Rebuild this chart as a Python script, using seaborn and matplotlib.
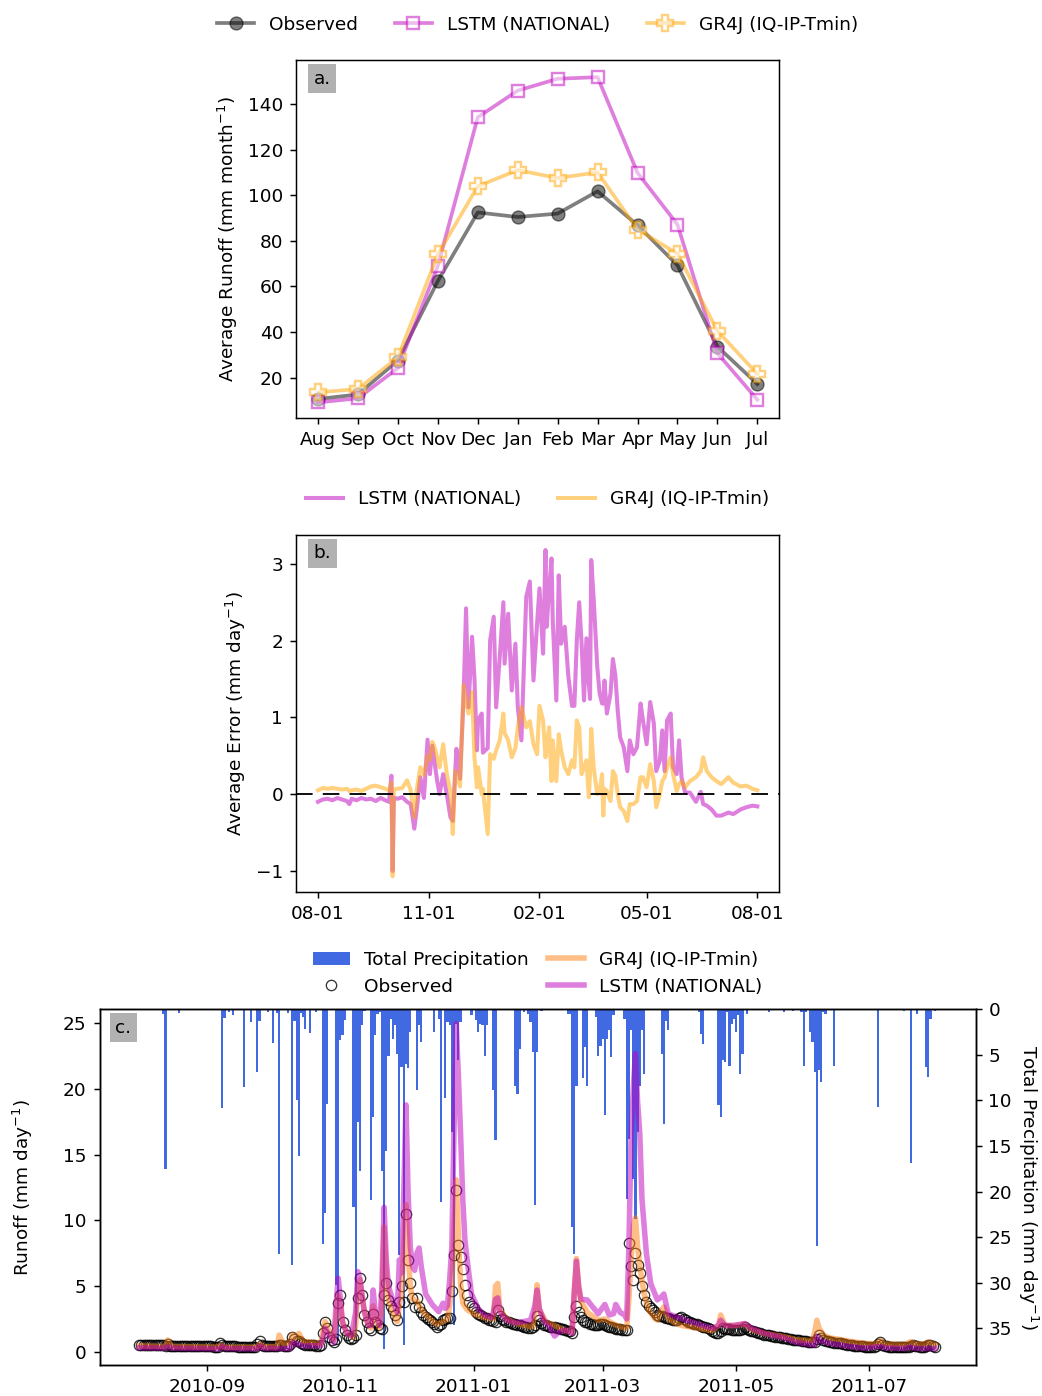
import numpy as np
import pandas as pd
import matplotlib
matplotlib.use("Agg")
import matplotlib.pyplot as plt
import matplotlib.dates as mdates
import seaborn as sns

# ---- panel a: monthly average runoff (mm/month)
months = ["Aug", "Sep", "Oct", "Nov", "Dec", "Jan", "Feb", "Mar", "Apr", "May", "Jun", "Jul"]
obs_month = [10.6, 12.6, 27.5, 62.4, 92.5, 90.5, 92.0, 101.8, 86.9, 69.3, 33.6, 17.2]
lstm_month = [9.1, 10.9, 24.2, 69.0, 134.3, 146.0, 151.2, 151.9, 109.9, 87.2, 30.7, 10.3]
gr4j_month = [13.5, 15.0, 28.9, 74.1, 104.0, 111.1, 107.6, 110.1, 85.0, 74.4, 40.5, 21.6]

# ---- panel b: average daily error, days after 08-01
b_day = [0, 4, 8, 12, 16, 20, 24, 26, 28, 32,
         36, 40, 44, 48, 52, 56, 59, 61, 62, 63,
         66, 70, 74, 77, 80, 82, 85, 88, 91, 93,
         95, 97, 99, 101, 104, 107, 110, 112, 114, 115,
         118, 121, 123, 125, 128, 130, 132, 133, 136, 137,
         141, 143, 146, 148, 151, 154, 155, 158, 161, 164,
         166, 169, 173, 176, 179, 182, 184, 187, 189, 190,
         192, 194, 195, 198, 200, 202, 205, 208, 211, 213,
         215, 217, 219, 221, 223, 225, 226, 227, 229, 232,
         234, 236, 237, 238, 240, 243, 245, 247, 249, 251,
         254, 257, 259, 262, 265, 268, 270, 273, 276, 279,
         281, 284, 286, 288, 290, 293, 295, 298, 300, 302,
         305, 309, 314, 318, 320, 323, 327, 331, 335, 341,
         345, 351, 356, 361, 365]
b_lstm = [-0.10, -0.07, -0.06, -0.08, -0.05, -0.07, -0.09, -0.13, -0.06, -0.08,
          -0.05, -0.07, -0.06, -0.09, -0.05, -0.08, -0.10, 0.24, -1.00, -0.05,
          -0.06, -0.04, -0.10, -0.13, -0.45, -0.20, 0.22, -0.05, 0.71, 0.26,
          0.63, 0.40, 0.17, 0.00, 0.26, 0.00, -0.30, -0.35, 0.30, 0.59,
          0.20, 1.30, 2.42, 1.13, 2.05, 1.50, 0.57, 0.96, 1.05, 0.54,
          0.60, 2.00, 2.31, 1.13, 1.79, 2.50, 1.70, 2.35, 1.35, 1.96,
          1.13, 0.70, 2.57, 2.77, 1.48, 2.22, 2.68, 1.83, 3.18, 2.18,
          2.66, 3.07, 2.27, 1.22, 2.85, 1.96, 2.18, 1.53, 1.15, 1.15,
          2.00, 2.50, 1.96, 1.22, 2.03, 1.44, 1.24, 3.05, 2.55, 1.66,
          1.31, 1.18, 1.18, 1.48, 1.05, 1.31, 1.76, 1.55, 1.09, 0.74,
          0.61, 0.30, 0.70, 0.52, 0.61, 1.18, 0.96, 0.65, 1.20, 0.92,
          0.30, 0.44, 0.83, 0.30, 0.96, 1.05, 0.35, 0.26, 0.70, 0.22,
          0.02, 0.02, -0.10, 0.03, -0.13, -0.15, -0.20, -0.28, -0.28, -0.24,
          -0.26, -0.20, -0.17, -0.15, -0.16]
b_gr4j = [0.05, 0.08, 0.07, 0.08, 0.07, 0.06, 0.07, 0.04, 0.05, 0.06,
          0.04, 0.07, 0.10, 0.11, 0.09, 0.07, 0.05, 0.15, -1.07, 0.06,
          0.07, 0.08, 0.18, 0.05, -0.30, 0.05, 0.35, 0.25, 0.50, 0.45,
          0.68, 0.60, 0.48, 0.35, 0.65, 0.26, 0.04, -0.52, 0.30, 0.25,
          0.10, 1.42, 1.20, 1.05, 1.33, 0.48, 0.09, 0.35, 0.00, 0.07,
          -0.52, 0.52, 0.46, 0.57, 0.70, 1.05, 0.80, 0.70, 0.48, 0.60,
          0.87, 1.13, 0.87, 0.95, 0.65, 0.52, 1.15, 0.96, 0.48, 0.60,
          0.87, 0.17, 0.70, 0.17, 0.78, 0.57, 0.35, 0.26, 0.44, 0.35,
          0.96, 0.87, 0.26, 0.35, 0.44, -0.04, 0.26, 0.85, 0.35, 0.00,
          0.04, 0.26, -0.28, 0.07, 0.04, -0.09, 0.30, 0.24, 0.00, -0.17,
          -0.22, -0.35, -0.13, -0.13, -0.09, 0.22, 0.22, 0.09, 0.39, 0.17,
          -0.17, 0.00, 0.17, 0.22, 0.35, 0.48, 0.26, 0.04, 0.13, 0.17,
          0.09, 0.17, 0.22, 0.30, 0.48, 0.30, 0.22, 0.17, 0.13, 0.22,
          0.15, 0.10, 0.11, 0.07, 0.05]

# ---- panel c: daily series 2010-08-01 .. 2011-07-31 (day offsets)
p_day = [11, 12, 18, 38, 39, 41, 43, 48, 51, 54, 55, 59, 61, 63, 64, 68, 70, 71, 72, 73,
         74, 75, 76, 78, 81, 84, 85, 86, 90, 91, 92, 93, 94, 98, 99, 100, 101, 102, 103, 106,
         107, 108, 109, 110, 111, 112, 113, 114, 115, 116, 117, 118, 119, 120, 121, 122, 123, 124, 127, 128,
         129, 135, 137, 138, 140, 141, 142, 143, 144, 145, 146, 147, 152, 154, 155, 156, 157, 158, 159, 162,
         163, 172, 173, 174, 176, 178, 179, 180, 181, 182, 184, 196, 197, 198, 199, 200, 203, 204, 205, 209,
         210, 211, 212, 213, 214, 215, 216, 217, 222, 223, 224, 225, 226, 227, 228, 229, 230, 231, 239, 240,
         241, 242, 256, 257, 258, 265, 266, 267, 268, 269, 270, 271, 272, 273, 274, 275, 276, 278, 288, 295,
         299, 303, 304, 305, 307, 308, 309, 310, 311, 312, 313, 314, 318, 338, 350, 353, 356, 360, 361, 362,
         364]
p_val = [0.5, 17.5, 0.4, 10.8, 1.0, 0.3, 0.6, 8.5, 1.4, 6.9, 1.3, 0.3, 3.7, 0.4, 26.8, 0.4, 28.0, 1.3, 10.0, 16.1,
         0.4, 0.9, 2.2, 2.6, 0.3, 25.7, 22.4, 10.4, 30.2, 36.4, 3.4, 2.9, 1.2, 21.7, 36.0, 12.4, 17.7, 1.8, 0.2, 20.9,
         11.8, 2.9, 0.5, 0.3, 17.7, 37.2, 15.5, 5.1, 1.1, 3.3, 1.8, 4.9, 27.0, 6.4, 36.8, 6.0, 6.5, 2.5, 8.9, 1.8,
         3.6, 2.5, 1.1, 21.1, 9.8, 1.4, 1.8, 13.5, 34.6, 1.6, 5.6, 1.4, 0.7, 1.2, 2.5, 1.6, 1.8, 5.1, 1.8, 8.9,
         14.4, 8.4, 9.3, 4.4, 0.3, 0.5, 1.4, 4.7, 21.5, 4.7, 0.2, 0.5, 0.5, 23.9, 26.8, 8.4, 7.6, 4.2, 8.4, 0.9,
         5.1, 4.0, 3.3, 11.6, 3.3, 2.3, 5.3, 0.7, 1.1, 20.8, 14.2, 2.3, 18.6, 23.0, 13.5, 8.4, 2.3, 7.1, 4.9, 12.6,
         1.3, 2.3, 0.3, 2.7, 3.8, 10.5, 11.8, 5.6, 5.8, 0.3, 6.2, 1.6, 1.1, 2.5, 0.7, 7.1, 4.9, 0.5, 0.3, 0.3,
         0.2, 0.3, 6.2, 0.3, 2.5, 3.6, 6.9, 26.0, 6.7, 8.0, 0.3, 0.5, 6.2, 10.7, 0.2, 16.9, 0.5, 6.4, 7.5, 1.1,
         0.2]

obs_daily = [
    0.52, 0.52, 0.51, 0.51, 0.50, 0.50, 0.50, 0.49, 0.49, 0.48, 0.48, 0.48, 0.47, 0.62,
    0.46, 0.45, 0.45, 0.44, 0.44, 0.44, 0.43, 0.43, 0.43, 0.42, 0.42, 0.42, 0.41, 0.41,
    0.41, 0.41, 0.40, 0.40, 0.40, 0.40, 0.39, 0.39, 0.39, 0.66, 0.55,
    0.42, 0.41, 0.41, 0.40, 0.40, 0.40, 0.39, 0.39, 0.39, 0.39, 0.38, 0.38, 0.38, 0.38, 0.38,
    0.60, 0.85, 0.55, 0.45, 0.43, 0.42, 0.41, 0.41, 0.40, 0.40,
    0.50, 0.48, 0.45, 0.44, 0.43, 0.60,
    1.15, 0.95, 0.80, 0.85, 0.65, 0.58, 0.55, 0.52, 0.50, 0.50, 0.48, 0.47, 0.47, 0.55,
    1.40, 2.30, 1.80, 1.15, 0.90, 0.77, 0.95, 3.74, 4.30, 2.30, 1.66, 1.27, 1.02, 1.00, 1.02, 1.30,
    4.07, 5.60, 4.30, 2.80, 2.30, 1.78, 1.65, 2.90, 2.30, 2.00, 1.78, 1.70, 4.30, 5.20, 3.94, 3.50, 3.20, 2.80, 2.40, 3.80,
    5.00, 3.80, 10.50, 7.00, 5.20, 4.07, 3.43, 4.07, 3.40, 3.05, 2.80, 2.67, 2.50, 2.40, 2.25, 2.15, 1.90, 2.00, 2.15, 2.40,
    2.50, 2.54, 2.54, 4.60, 7.40, 12.30, 8.10, 7.20, 6.30, 5.10, 4.30, 3.80, 3.50, 3.30, 3.05, 2.90, 2.80, 2.70, 2.60, 2.55,
    2.45, 2.40, 2.35, 2.30, 3.20, 2.70, 2.50, 2.40, 2.30, 2.25, 2.20, 2.15, 2.10, 2.05, 2.00, 1.95, 1.90, 1.85, 1.82, 1.80,
    1.85, 2.00, 2.75, 2.40, 2.20, 2.05, 2.00, 1.95, 1.90, 1.88, 1.85, 1.82, 1.80, 1.75, 1.70, 1.66, 1.60, 1.55, 1.45, 2.67,
    3.50, 3.05, 2.67, 2.40, 2.30, 2.25, 2.15, 2.10, 2.05, 2.00, 2.05, 2.15, 2.10, 2.00, 1.95, 1.90, 1.85, 1.80, 1.75, 1.72,
    1.70, 1.66, 1.66, 1.66, 8.30, 6.50, 5.50, 7.50, 6.60, 6.00, 5.00, 4.30, 3.80, 3.50, 3.30, 3.15, 3.05, 2.80, 2.75, 2.70,
    2.67, 2.60, 2.55, 2.50, 2.45, 2.40, 2.40, 2.55, 2.67, 2.50, 2.40, 2.30, 2.25, 2.20, 2.15, 2.10, 2.00, 1.95, 1.90, 1.85,
    1.78, 1.70, 1.60, 1.53, 1.45, 1.40, 1.60, 1.78, 1.75, 1.72, 1.70, 1.68, 1.66, 1.66, 1.66, 1.66, 1.75, 1.90, 1.75, 1.65,
    1.60, 1.55, 1.50, 1.45, 1.40, 1.35, 1.30, 1.27, 1.24, 1.21, 1.18, 1.15, 1.12, 1.10, 1.07, 1.05, 1.02, 0.98, 0.95, 0.92,
    0.90, 0.88, 0.86, 0.84, 0.82, 0.80, 0.78, 0.77, 0.76, 0.75, 1.00, 1.27, 1.05, 0.90, 0.85, 0.80, 0.76, 0.73, 0.70, 0.68,
    0.66, 0.64, 0.60, 0.56, 0.52, 0.50, 0.48, 0.46, 0.45, 0.43, 0.42, 0.40, 0.38, 0.38, 0.37, 0.37, 0.36, 0.45, 0.60, 0.77,
    0.55, 0.45, 0.40, 0.38, 0.37, 0.36, 0.35, 0.34, 0.34, 0.33, 0.33, 0.33, 0.34, 0.40, 0.50, 0.45, 0.40, 0.38, 0.37, 0.37,
    0.40, 0.50, 0.50, 0.42, 0.38]

gr_day = [0, 12, 13, 15, 36, 37, 39, 54, 55, 57,
          63, 64, 66, 69, 70, 71, 73, 75, 83, 84,
          85, 87, 89, 90, 91, 92, 93, 95, 98, 99,
          100, 101, 102, 104, 106, 107, 108, 110, 111, 112,
          113, 114, 116, 118, 119, 120, 121, 122, 123, 124,
          125, 127, 128, 130, 133, 136, 139, 141, 142, 143,
          144, 145, 146, 147, 148, 150, 154, 158, 162, 163,
          164, 165, 168, 172, 176, 180, 181, 182, 183, 186,
          190, 195, 198, 199, 200, 201, 202, 205, 210, 213,
          216, 220, 223, 224, 225, 226, 227, 228, 229, 231,
          233, 236, 237, 239, 240, 242, 245, 248, 255, 262,
          265, 266, 268, 272, 277, 280, 286, 295, 301, 308,
          309, 310, 311, 313, 316, 320, 325, 332, 337, 339,
          341, 350, 353, 355, 360, 361, 364]
gr_val = [0.45, 0.40, 0.90, 0.40, 0.35, 0.50, 0.35, 0.35, 0.60, 0.38,
          0.38, 1.27, 0.60, 0.70, 1.30, 1.00, 1.40, 0.80, 0.60, 1.50,
          2.30, 1.50, 0.90, 2.50, 4.30, 3.50, 2.30, 1.40, 1.10, 2.00,
          5.00, 5.50, 4.00, 2.30, 1.80, 3.50, 2.50, 1.80, 3.50, 9.50,
          6.00, 4.00, 3.00, 2.30, 3.50, 4.50, 8.00, 11.20, 7.50, 5.00,
          4.00, 3.90, 3.50, 3.00, 2.50, 2.10, 2.30, 2.50, 3.50, 5.00,
          9.00, 13.10, 9.00, 5.20, 3.70, 3.20, 2.80, 2.60, 2.50, 5.00,
          5.20, 3.20, 2.50, 2.20, 2.00, 1.90, 3.00, 5.10, 3.20, 2.30,
          2.00, 1.60, 1.50, 4.50, 7.10, 5.00, 3.90, 3.00, 2.40, 2.50,
          2.20, 1.90, 1.80, 4.00, 7.00, 9.50, 10.20, 8.00, 6.50, 4.40,
          3.20, 2.50, 2.40, 3.20, 3.40, 2.50, 2.20, 2.00, 1.80, 1.60,
          2.00, 2.80, 2.00, 2.00, 2.10, 1.70, 1.40, 1.15, 0.90, 0.85,
          1.50, 2.40, 1.80, 1.27, 1.05, 0.95, 0.80, 0.64, 0.60, 0.85,
          0.60, 0.55, 0.77, 0.60, 0.60, 0.75, 0.55]

lstm_day = [0, 12, 13, 15, 37, 38, 40, 54, 55, 57,
            69, 70, 72, 75, 83, 84, 85, 87, 89, 90,
            91, 92, 93, 95, 97, 99, 100, 101, 103, 105,
            106, 107, 108, 110, 111, 112, 113, 114, 116, 118,
            119, 120, 121, 122, 123, 124, 125, 126, 127, 128,
            129, 131, 134, 137, 139, 140, 141, 142, 143, 144,
            145, 146, 147, 148, 149, 150, 152, 155, 158, 161,
            162, 163, 164, 165, 168, 172, 176, 179, 181, 182,
            183, 185, 188, 190, 192, 195, 198, 199, 200, 201,
            202, 205, 207, 210, 213, 215, 217, 218, 220, 222,
            223, 224, 225, 226, 227, 228, 229, 230, 232, 234,
            237, 239, 240, 242, 245, 250, 255, 262, 265, 266,
            268, 272, 277, 280, 286, 295, 301, 309, 310, 312,
            316, 325, 332, 339, 341, 350, 353, 355, 364]
lstm_val = [0.30, 0.27, 0.40, 0.27, 0.22, 0.40, 0.24, 0.22, 0.45, 0.25,
            0.25, 0.70, 0.60, 0.45, 0.45, 1.00, 1.80, 1.20, 0.70, 3.50,
            5.60, 4.00, 2.20, 1.40, 1.20, 3.00, 6.10, 5.50, 3.00, 2.00,
            2.00, 4.70, 3.00, 2.00, 5.00, 11.00, 7.00, 5.00, 3.90, 3.00,
            7.00, 6.00, 12.00, 18.80, 12.00, 8.00, 6.50, 6.20, 7.50, 7.90,
            6.50, 4.40, 3.60, 3.05, 3.70, 3.30, 3.50, 5.50, 8.00, 17.00,
            25.00, 21.00, 16.60, 11.60, 8.50, 7.00, 4.40, 3.30, 2.80, 2.60,
            3.00, 4.00, 4.10, 3.00, 2.40, 2.20, 2.30, 2.40, 3.50, 4.70,
            3.30, 2.40, 1.80, 1.20, 1.50, 1.66, 1.40, 4.50, 6.90, 5.00,
            4.00, 3.94, 3.50, 2.90, 3.60, 2.80, 2.90, 3.60, 3.00, 2.80,
            2.50, 8.00, 16.30, 20.00, 22.70, 19.00, 16.60, 11.60, 7.50, 5.20,
            3.95, 4.20, 4.40, 2.90, 2.70, 2.40, 2.15, 1.78, 2.00, 2.40,
            2.00, 2.00, 2.15, 1.80, 1.40, 1.05, 0.70, 0.50, 1.15, 0.80,
            0.64, 0.40, 0.28, 0.40, 0.30, 0.25, 0.35, 0.25, 0.25]

start = pd.Timestamp("2010-08-01")
to_dates = lambda d: start + pd.to_timedelta(np.asarray(d), unit="D")

fig = plt.figure(figsize=(1042 / 133, 1396 / 133), dpi=133)
ax_a = fig.add_axes([0.2841, 0.7008, 0.4638, 0.2560])
ax_b = fig.add_axes([0.2841, 0.3613, 0.4638, 0.2557])
ax_c = fig.add_axes([0.0955, 0.0222, 0.8407, 0.2550])

box = dict(boxstyle="square,pad=0.3", facecolor="darkgray", edgecolor="none", alpha=0.9)

# a. monthly means
xm = np.arange(len(months))
sns.lineplot(x=xm, y=obs_month, ax=ax_a, color="black", alpha=0.5, lw=2,
             marker="o", markersize=7, markerfacecolor="black", markeredgecolor="black",
             label="Observed")
sns.lineplot(x=xm, y=lstm_month, ax=ax_a, color="m", alpha=0.5, lw=2,
             marker="s", markersize=6.5, markerfacecolor="white", markeredgecolor="m",
             markeredgewidth=1.3, label="LSTM (NATIONAL)")
sns.lineplot(x=xm, y=gr4j_month, ax=ax_a, color="orange", alpha=0.5, lw=2,
             marker="P", markersize=9, markerfacecolor="white", markeredgecolor="orange",
             markeredgewidth=1.3, label="GR4J (IQ-IP-Tmin)")
ax_a.set_xticks(xm)
ax_a.set_xticklabels(months)
ax_a.set_xlim(-0.55, 11.55)
ax_a.set_ylim(2.4, 159.3)
ax_a.set_yticks(range(20, 141, 20))
ax_a.set_xlabel("")
ax_a.set_ylabel("Average Runoff (mm month$^{-1}$)")
ax_a.legend(loc="lower center", bbox_to_anchor=(0.5, 1.028), ncol=3, frameon=False)
ax_a.annotate("a.", xy=(0, 1), xycoords="axes fraction", xytext=(9.5, -5.2),
              textcoords="offset points", ha="left", va="top", bbox=box)

# b. average daily error
db = to_dates(b_day)
sns.lineplot(x=db, y=b_lstm, ax=ax_b, color="m", alpha=0.5, lw=2.2, label="LSTM (NATIONAL)")
sns.lineplot(x=db, y=b_gr4j, ax=ax_b, color="orange", alpha=0.5, lw=2.2, label="GR4J (IQ-IP-Tmin)")
ax_b.axhline(0, color="black", lw=1.0, ls=(0, (9, 5.5)))
ax_b.xaxis.set_major_locator(mdates.MonthLocator(bymonth=[2, 5, 8, 11]))
ax_b.xaxis.set_major_formatter(mdates.DateFormatter("%m-%d"))
ax_b.set_xlim(start - pd.Timedelta(days=18.25), start + pd.Timedelta(days=383.25))
ax_b.set_ylim(-1.27, 3.38)
ax_b.set_yticks([-1, 0, 1, 2, 3])
ax_b.set_xlabel("")
ax_b.set_ylabel("Average Error (mm day$^{-1}$)")
ax_b.legend(loc="lower center", bbox_to_anchor=(0.5, 1.028), ncol=2, frameon=False)
ax_b.annotate("b.", xy=(0, 1), xycoords="axes fraction", xytext=(9.5, -5.2),
              textcoords="offset points", ha="left", va="top", bbox=box)

# c. daily hydrograph with inverted precipitation
ax_p = ax_c.twinx()
bars = ax_p.bar(to_dates(p_day), p_val, width=1.0, color="royalblue", label="Total Precipitation")
ax_p.set_ylim(39.0, 0)
ax_p.set_yticks(range(0, 36, 5))
ax_p.set_ylabel("Total Precipitation (mm day$^{-1}$)", rotation=270, labelpad=15)
ax_c.set_zorder(ax_p.get_zorder() + 1)
ax_c.patch.set_visible(False)

obs_line, = ax_c.plot(to_dates(np.arange(len(obs_daily))), obs_daily, ls="", marker="o",
                      markersize=5.6, markerfacecolor="none", markeredgecolor="black",
                      markeredgewidth=0.7, alpha=0.8, label="Observed")
sns.lineplot(x=to_dates(gr_day), y=gr_val, ax=ax_c, color="tab:orange", alpha=0.5, lw=3,
             label="GR4J (IQ-IP-Tmin)")
sns.lineplot(x=to_dates(lstm_day), y=lstm_val, ax=ax_c, color="m", alpha=0.5, lw=3,
             label="LSTM (NATIONAL)")
ax_c.set_xlim(start - pd.Timedelta(days=18.2), start + pd.Timedelta(days=382.6))
ax_c.set_ylim(-1.01, 26.1)
ax_c.set_yticks(range(0, 26, 5))
ax_c.xaxis.set_major_locator(mdates.MonthLocator(bymonth=[1, 3, 5, 7, 9, 11]))
ax_c.xaxis.set_major_formatter(mdates.DateFormatter("%Y-%m"))
ax_c.set_xlabel("")
ax_c.set_ylabel("Runoff (mm day$^{-1}$)", labelpad=15)
h, l = ax_c.get_legend_handles_labels()
hmap = dict(zip(l, h))
ax_c.legend([bars, obs_line, hmap["GR4J (IQ-IP-Tmin)"], hmap["LSTM (NATIONAL)"]],
            ["Total Precipitation", "Observed", "GR4J (IQ-IP-Tmin)", "LSTM (NATIONAL)"],
            loc="lower center", bbox_to_anchor=(0.5, 0.99), ncol=2, frameon=False,
            columnspacing=1.0)
ax_c.annotate("c.", xy=(0, 1), xycoords="axes fraction", xytext=(8.5, -5.2),
              textcoords="offset points", ha="left", va="top", bbox=box)

fig.savefig("out.png", dpi=133)
